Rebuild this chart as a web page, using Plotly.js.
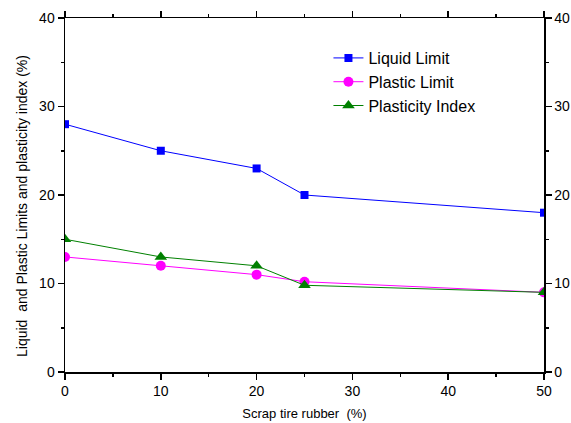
<!DOCTYPE html>
<html><head><meta charset="utf-8">
<script src="https://cdn.plot.ly/plotly-3.0.1.min.js"></script>
<style>html,body{margin:0;padding:0;background:#fff}#c{width:571px;height:423px}</style>
</head><body><div id="c"></div>
<script>
var rubber = [0, 10, 20, 25, 50];
var liquidLimit = [28, 25, 23, 20, 18];
var plasticLimit = [13, 12, 11, 10.2, 9];
var plasticityIndex = [15, 13, 12, 9.8, 9];

var font = {family: 'Liberation Sans, Arial, sans-serif', color: '#000'};
var traces = [
  {x: rubber, y: liquidLimit, name: 'Liquid Limit', mode: 'lines+markers', cliponaxis: true,
   line: {color: '#0000ff', width: 1}, marker: {symbol: 'square', size: 8, color: '#0000ff'}},
  {x: rubber, y: plasticLimit, name: 'Plastic Limit', mode: 'lines+markers', cliponaxis: true,
   line: {color: '#ff00ff', width: 1}, marker: {symbol: 'circle', size: 10, color: '#ff00ff'}},
  {x: rubber, y: plasticityIndex, name: 'Plasticity Index', mode: 'lines+markers', cliponaxis: true,
   line: {color: '#008000', width: 1}, marker: {symbol: 'triangle-up', size: 11, color: '#008000'}}
];
var axCommon = {showgrid: false, zeroline: false, showline: true, linecolor: '#000', linewidth: 1.5,
  ticks: 'outside', ticklen: 6, tickwidth: 1.5, tickcolor: '#000', tickfont: Object.assign({size: 14}, font)};
var minorT = {ticks: 'outside', dtick: 5, ticklen: 3, tickwidth: 1.5, tickcolor: '#000'};
var layout = {
  width: 571, height: 423,
  margin: {l: 65, r: 27, t: 18, b: 51},
  paper_bgcolor: '#fff', plot_bgcolor: '#fff',
  font: font,
  showlegend: true,
  legend: {x: 0.55, y: 0.935, xanchor: 'left', yanchor: 'top', bgcolor: 'rgba(0,0,0,0)',
    font: Object.assign({size: 16}, font), tracegroupgap: 0, itemwidth: 30},
  xaxis: Object.assign({}, axCommon, {range: [0, 50], dtick: 10, minor: minorT,
    title: {text: 'Scrap tire rubber  (%)', font: Object.assign({size: 13}, font), standoff: 10}}),
  xaxis2: Object.assign({}, axCommon, {range: [0, 50], dtick: 10, overlaying: 'x', side: 'top',
    showticklabels: false, minor: minorT}),
  yaxis: Object.assign({}, axCommon, {range: [0, 40], dtick: 10, minor: minorT}),
  yaxis2: Object.assign({}, axCommon, {range: [0, 40], dtick: 10, overlaying: 'y', side: 'right', minor: minorT}),
  annotations: [{text: 'Liquid  and Plastic Limits and plasticity index (%)', textangle: -90,
    xref: 'paper', yref: 'paper', x: -0.0898, y: 0.469, xanchor: 'center', yanchor: 'middle',
    showarrow: false, font: Object.assign({size: 14}, font)}]
};
traces.push({x: [0], y: [0], xaxis: 'x2', yaxis: 'y2', mode: 'markers', marker: {opacity: 0}, showlegend: false, hoverinfo: 'skip'});
Plotly.newPlot('c', traces, layout, {displayModeBar: false, staticPlot: true});
</script></body></html>
